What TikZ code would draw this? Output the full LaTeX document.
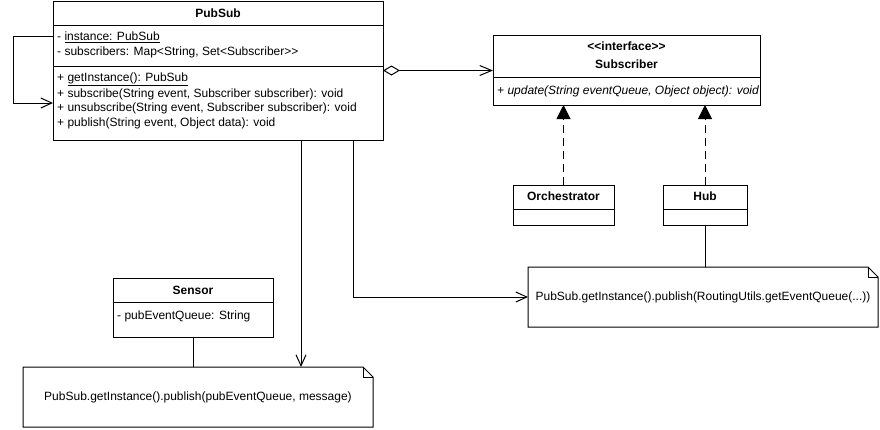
\documentclass[tikz,border=0pt]{standalone}
\usepackage{fontspec}
\setmainfont{Liberation Sans}
\usetikzlibrary{arrows.meta,positioning,calc}
\tikzset{
  vonal/.style={line width=1pt},
  osztaly/.style={draw,vonal,anchor=north west,inner sep=0pt,outer sep=0pt},
  sor/.style={anchor=west,inner sep=0pt,font=\fontsize{12}{14}\selectfont},
  cim/.style={inner sep=0pt,font=\fontsize{12}{14}\selectfont\bfseries},
  jegyzet/.style={inner sep=0pt,outer sep=0pt,font=\fontsize{12}{14}\selectfont},
  nyil/.style={vonal,-{Straight Barb[length=11pt,width=10pt]}},
  aggr/.style={nyil,{Diamond[open,length=17pt,width=10pt]}-{Straight Barb[length=12pt,width=10pt]}},
  megval/.style={vonal,dash pattern=on 8pt off 5pt,-{Triangle[length=14pt,width=14pt]}},
}

\begin{document}
\begin{tikzpicture}[x=1pt,y=-1pt]
  \useasboundingbox (0,0) rectangle (880,429);
  % PubSub
  \node[osztaly,minimum width=330,minimum height=139] (pubsub) at (53,1) {};
  \draw[vonal] ($(pubsub.north west)+(0,24)$) -- ($(pubsub.north east)+(0,24)$);
  \draw[vonal] ($(pubsub.north west)+(0,65)$) -- ($(pubsub.north east)+(0,65)$);
  \node[cim] at ($(pubsub.north)+(0,12)$) {PubSub};
  \node[sor] at (57,37) {- \underline{instance: PubSub}};
  \node[sor] at (57,52) {- subscribers: Map<String, Set<Subscriber>{}>};
  \node[sor] at (57,79) {+ \underline{getInstance(): PubSub}};
  \node[sor] at (57,94) {+ subscribe(String event, Subscriber subscriber): void};
  \node[sor] at (57,108) {+ unsubscribe(String event, Subscriber subscriber): void};
  \node[sor] at (57,123) {+ publish(String event, Object data): void};
  % Subscriber
  \node[osztaly,minimum width=267,minimum height=70] (subscriber) at (493,35) {};
  \draw[vonal] ($(subscriber.north west)+(0,42)$) -- ($(subscriber.north east)+(0,42)$);
  \node[cim] at ($(subscriber.north)+(0,11)$) {<{}<interface>{}>};
  \node[cim] at ($(subscriber.north)+(0,29)$) {Subscriber};
  \node[sor] at (497,91) {\itshape + update(String eventQueue, Object object): void};
  % Orchestrator, Hub
  \node[osztaly,minimum width=101,minimum height=40] (orch) at (513,185) {};
  \draw[vonal] ($(orch.north west)+(0,24)$) -- ($(orch.north east)+(0,24)$);
  \node[cim] at ($(orch.north)+(0,11)$) {Orchestrator};
  \node[osztaly,minimum width=84,minimum height=40] (hub) at (663,185) {};
  \draw[vonal] ($(hub.north west)+(0,24)$) -- ($(hub.north east)+(0,24)$);
  \node[cim] at ($(hub.north)+(0,11)$) {Hub};
  % Sensor
  \node[osztaly,minimum width=160,minimum height=59] (sensor) at (113,278) {};
  \draw[vonal] ($(sensor.north west)+(0,24)$) -- ($(sensor.north east)+(0,24)$);
  \node[cim] at ($(sensor.north)+(0,12)$) {Sensor};
  \node[sor] at (117,316) {- pubEventQueue: String};
  % jegyzetek
  \node[jegyzet,minimum width=350,minimum height=60] (note1) at (703,297)
    {PubSub.getInstance().publish(RoutingUtils.getEventQueue(...))};
  \node[jegyzet,minimum width=350,minimum height=60] (note2) at (198,397)
    {PubSub.getInstance().publish(pubEventQueue, message)};
  \foreach \n in {note1,note2} {
    \draw[vonal] (\n.south west) -- (\n.north west) -- ($(\n.north east)+(-10,0)$)
      -- ($(\n.north east)+(0,10)$) -- (\n.south east) -- cycle;
    \draw[vonal] ($(\n.north east)+(-10,0)$) -- ($(\n.north east)+(-10,10)$)
      -- ($(\n.north east)+(0,10)$);
  }
  % kapcsolatok
  \draw[nyil] ($(pubsub.north west)+(0,35)$) -- ++(-40,0) |- ($(pubsub.north west)+(0,102)$);
  \draw[aggr] (pubsub.east) -- (pubsub.east -| subscriber.west);
  \draw[megval] (orch.north) -- (orch.north |- subscriber.south);
  \draw[megval] (hub.north) -- (hub.north |- subscriber.south);
  \draw[vonal] (hub.south) -- (hub.south |- note1.north);
  \draw[vonal] (sensor.south) -- (sensor.south |- note2.north);
  \draw[nyil] (pubsub.south -| 353,0) |- (note1.west);
  \draw[nyil] (pubsub.south -| 301,0) -- (note2.north -| 301,0);
\end{tikzpicture}
\end{document}
